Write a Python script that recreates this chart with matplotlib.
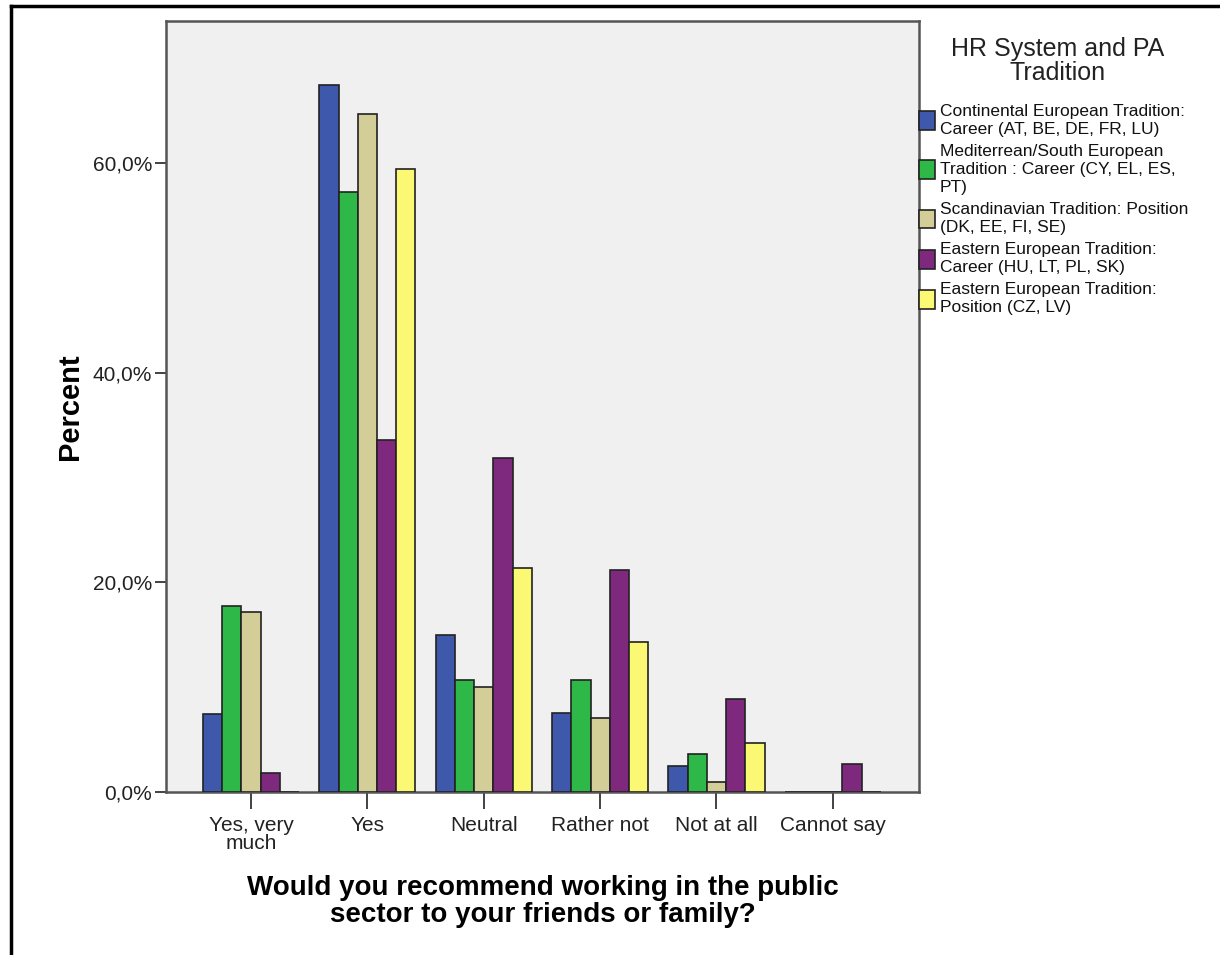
import matplotlib
matplotlib.use("Agg")
import matplotlib.pyplot as plt
import numpy as np
from matplotlib.ticker import FuncFormatter
from matplotlib.lines import Line2D

categories = ["Yes, very\nmuch", "Yes", "Neutral", "Rather not", "Not at all", "Cannot say"]
series_names = [
    "Continental European Tradition:\nCareer (AT, BE, DE, FR, LU)",
    "Mediterrean/South European\nTradition : Career (CY, EL, ES,\nPT)",
    "Scandinavian Tradition: Position\n(DK, EE, FI, SE)",
    "Eastern European Tradition:\nCareer (HU, LT, PL, SK)",
    "Eastern European Tradition:\nPosition (CZ, LV)",
]
legend_title = "HR System and PA\nTradition"
continental = [7.4, 67.5, 15.0, 7.5, 2.5, 0.0]
mediterranean = [17.8, 57.3, 10.7, 10.7, 3.6, 0.0]
scandinavian = [17.2, 64.7, 10.0, 7.1, 1.0, 0.0]
eastern_career = [1.8, 33.6, 31.9, 21.2, 8.9, 2.7]
eastern_position = [0.0, 59.5, 21.4, 14.3, 4.7, 0.0]
series_values = [continental, mediterranean, scandinavian, eastern_career, eastern_position]
colors = ["#3e58ac", "#2eb848", "#d3ce97", "#7e287e", "#fbf873"]
y_ticks = [0, 20, 40, 60]

plt.rcParams["font.family"] = ["Liberation Sans", "DejaVu Sans"]

W, H = 1220, 955
fig = plt.figure(figsize=(W / 100, H / 100), dpi=100)
ax = fig.add_axes([166 / W, 1 - 792 / H, (919 - 166) / W, (792 - 21) / H])
ax.set_facecolor("#f0f0f0")

x = np.arange(len(categories))
w = 0.165
for i, (vals, c, name) in enumerate(zip(series_values, colors, series_names)):
    ax.bar(x + (i - 2) * w, vals, width=w, color=c, edgecolor="#222222",
           linewidth=1.2, label=name, zorder=3)

ax.set_xlim(-0.73, 5.74)
ax.set_ylim(0, 73.6)
ax.set_xticks(x)
ax.set_xticklabels(categories, fontsize=15, color="#222222", linespacing=0.95)
ax.set_yticks(y_ticks)
ax.yaxis.set_major_formatter(FuncFormatter(lambda v, p: f"{v:.1f}%".replace(".", ",")))
ax.tick_params(axis="y", labelsize=15, length=8, width=1.2, colors="#222222", pad=2)
ax.tick_params(axis="x", length=12, width=1.2, colors="#222222", pad=5)
for s in ax.spines.values():
    s.set_color("#555555")
    s.set_linewidth(1.8)

ax.set_ylabel("Percent", fontsize=21, fontweight="bold", labelpad=6)
ax.set_xlabel("Would you recommend working in the public\nsector to your friends or family?",
              fontsize=20, fontweight="bold", labelpad=16, linespacing=1.05)

# legend title
fig.text(1058 / W, 1 - 61 / H, legend_title, ha="center", va="center", fontsize=18,
         color="#222222", linespacing=1.02, multialignment="center")

leg = ax.legend(loc="upper left", bbox_to_anchor=(919 / W, 1 - 104 / H),
                bbox_transform=fig.transFigure, frameon=False, fontsize=12.5,
                handlelength=0.95, handleheight=1.3, handletextpad=0.25,
                labelspacing=0.4, borderaxespad=0.0, borderpad=0.0)
for t in leg.get_texts():
    t.set_linespacing(1.26)
    t.set_color("#111111")

# outer frame
fig.add_artist(Line2D([11 / W, 11 / W], [0, 1 - 6 / H], transform=fig.transFigure,
                      color="black", linewidth=2.5))
fig.add_artist(Line2D([11 / W, 1], [1 - 6 / H, 1 - 6 / H], transform=fig.transFigure,
                      color="black", linewidth=2.5))

fig.savefig("out.png", dpi=100)
